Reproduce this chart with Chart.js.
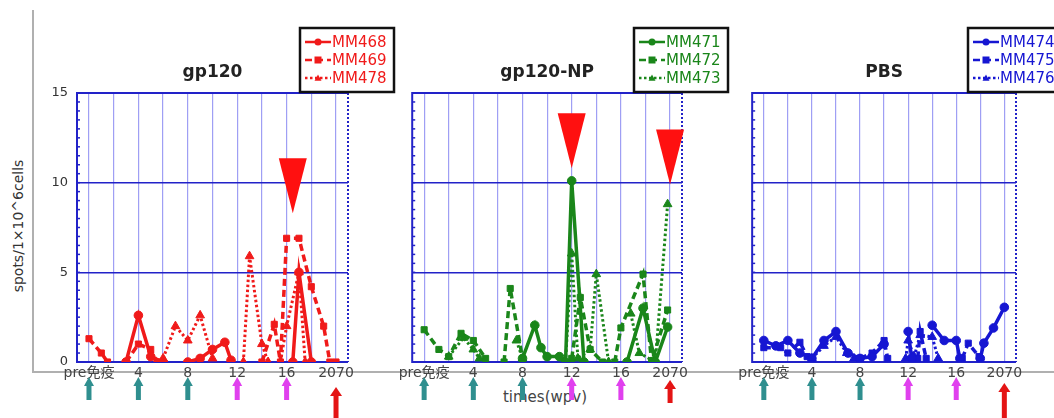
<!DOCTYPE html>
<html>
<head>
<meta charset="utf-8">
<script src="https://cdn.jsdelivr.net/npm/chart.js@4/dist/chart.umd.min.js"></script>
<style>
body { margin: 0; width: 1054px; height: 418px; overflow: hidden; background: #fff; position: relative; font-family: "DejaVu Sans", "Noto Sans CJK JP", sans-serif; }
canvas { position: absolute; top: 0; }
#c1 { left: 20px; }
#c2 { left: 395px; }
#c3 { left: 735px; }
#axisV { position: absolute; left: 32px; top: 10px; width: 2px; height: 363px; background: #b0b0b0; }
#axisH { position: absolute; left: 32px; top: 371px; width: 1022px; height: 2px; background: #b0b0b0; }
#ylab { position: absolute; left: 18px; top: 226px; transform: translate(-50%, -50%) rotate(-90deg); font-size: 14px; white-space: nowrap; color: #333; }
#xlab { position: absolute; left: 545px; top: 397px; transform: translate(-50%, -50%); font-size: 15px; color: #444; white-space: nowrap; }
</style>
</head>
<body>
<div id="axisV"></div>
<div id="axisH"></div>
<div id="ylab">spots/1×10^6cells</div>
<div id="xlab">times(wpv)</div>
<canvas id="c1" width="380" height="418"></canvas>
<canvas id="c2" width="345" height="418"></canvas>
<canvas id="c3" width="319" height="418"></canvas>
<script>
// x axis: weeks after vaccination, grid every 2 weeks
var gridWeeks = [0, 2, 4, 6, 8, 10, 12, 14, 16, 18, 20];
var xTickLabels = ["pre免疫", "", "4", "", "8", "", "12", "", "16", "", "2070"];
var yTicks = [0, 5, 10, 15];

// immunisation arrows under the axis
var arrowWeeks = [0, 4, 8, 12, 16, 20];
var arrowKinds = ["teal", "teal", "teal", "pink", "pink", "red"];

// gp120 group
var mm468Weeks  = [3, 4, 5, 6, 6.5, 8, 9, 10, 11, 11.5, 13, 16.5, 17, 18];
var mm468Values = [0, 2.6, 0.3, 0, null, 0, 0.2, 0.7, 1.1, 0.1, null, 0, 5.0, 0];
var mm469Weeks  = [0, 1, 1.5, 2, 3, 4, 5, 5.5, 7, 14, 15, 15.5, 16, 17, 18, 19, 19.5, 20];
var mm469Values = [1.3, 0.5, 0, null, 0, 1.0, 0.7, 0, null, 0, 2.1, 0, 6.9, 6.9, 4.2, 2.0, 0, 0];
var mm478Weeks  = [6, 7, 8, 9, 10, 11, 12.5, 13, 14, 14.5, 15, 15.5, 16, 17, 17.5];
var mm478Values = [0.2, 2.0, 1.2, 2.6, 0.2, null, 0, 5.9, 1.0, 0, null, 0, 2.0, 5.0, 0];
var gp120MarkWeeks = [16.5];
var gp120MarkTips  = [8.3];

// gp120-NP group
var mm471Weeks  = [8, 9, 9.5, 10, 11, 11.5, 12, 13, 13.5, 16.5, 17.8, 18.8, 19.8];
var mm471Values = [0.2, 2.05, 0.8, 0.3, 0.3, 0, 10.1, 0, null, 0, 3.0, 0, 1.95];
var mm472Weeks  = [0, 1.2, 2, 3, 4, 5, 5.5, 6.5, 7, 8, 8.5, 12, 12.7, 13.5, 14.5, 15, 15.5, 16, 17.8, 18.5, 19.8];
var mm472Values = [1.8, 0.7, 0.3, 1.6, 1.2, 0.2, null, 0, 4.1, 0.2, null, 0.2, 3.6, 0.7, 0, null, 0, 1.9, 4.9, 0, 2.9];
var mm473Weeks  = [2, 3.2, 4, 4.5, 5, 7.5, 8, 9, 11.5, 12, 12.5, 13.5, 14, 15, 15.5, 16.8, 17.5, 18.8, 19.8];
var mm473Values = [0.3, 1.35, 0.7, 0.2, null, 1.2, 0.2, null, 0, 6.05, 0.2, 0.7, 4.9, 0, null, 2.7, 0.5, 0, 8.8];
var npMarkWeeks = [12, 20];
var npMarkTips  = [10.8, 9.9];

// PBS group
var mm474Weeks  = [0, 1, 2, 3, 4, 5, 6, 7, 8, 9, 10, 10.5, 12, 12.3, 12.6, 14, 15, 16, 16.3, 17, 18, 18.3, 19.1, 20];
var mm474Values = [1.2, 0.9, 1.2, 0.5, 0.2, 1.2, 1.7, 0.5, 0.2, 0.3, 1.0, null, 1.7, 0.2, null, 2.05, 1.2, 1.2, 0.2, null, 0.2, 1.05, 1.9, 3.05];
var mm475Weeks  = [0, 1.4, 2, 3, 3.6, 4, 4.5, 8, 9, 10, 10.3, 11, 12.8, 13, 13.5, 14, 16.5, 17, 17.9];
var mm475Values = [0.8, 0.8, 0.5, 1.1, 0.3, 0.2, null, 0.2, 0.5, 1.2, 0.2, null, 0.2, 1.7, 0.2, null, 0.2, 1.05, 0.3];
var mm476Weeks  = [4, 5, 6, 6.9, 7.5, 9, 11.8, 12, 12.5, 13, 14, 14.5];
var mm476Values = [0.2, 0.9, 1.4, 0.5, 0.2, null, 0.2, 1.2, 0.3, 1.5, 1.4, 0.2];

var FRAME = "#2222c8";
var arrowColors = { teal: "#2f8f8f", pink: "#e040ee", red: "#e41414" };

function pts(weeks, values) {
	return weeks.map(function(w, i) { return { x: w, y: values[i] }; });
}

function series(name, weeks, values, color, kind) {
	var dash = kind == "solid" ? [] : (kind == "dash" ? [7, 4] : [2.5, 2.5]);
	var shape = kind == "solid" ? "circle" : (kind == "dash" ? "rect" : "triangle");
	return {
		label: name,
		data: pts(weeks, values),
		borderColor: color,
		backgroundColor: color,
		borderWidth: kind == "dot" ? 3 : 3.5,
		borderDash: dash,
		pointStyle: shape,
		pointRadius: shape == "triangle" ? 5 : 4.3,
		pointBorderWidth: 1,
		spanGaps: false,
		tension: 0
	};
}

function drawShape(ctx, shape, x, y, r) {
	ctx.beginPath();
	if (shape == "circle") ctx.arc(x, y, r, 0, Math.PI * 2);
	else if (shape == "rect") ctx.rect(x - r, y - r, r * 2, r * 2);
	else { ctx.moveTo(x, y - r); ctx.lineTo(x + r, y + r * 0.8); ctx.lineTo(x - r, y + r * 0.8); ctx.closePath(); }
	ctx.fill();
}

var panelDeco = {
	id: "panelDeco",
	beforeDatasetsDraw: function(chart, args, o) {
		var ctx = chart.ctx, a = chart.chartArea, y = chart.scales.y;
		ctx.save();
		ctx.strokeStyle = FRAME;
		ctx.lineWidth = 2;
		ctx.beginPath();
		ctx.moveTo(a.right, a.top); ctx.lineTo(a.left, a.top); ctx.lineTo(a.left, a.bottom); ctx.lineTo(a.right, a.bottom);
		ctx.stroke();
		ctx.setLineDash([2, 2]);
		ctx.beginPath(); ctx.moveTo(a.right, a.top); ctx.lineTo(a.right, a.bottom); ctx.stroke();
		ctx.setLineDash([]);
		ctx.lineWidth = 1.5;
		for (var v = 0.5; v < 15; v += 0.5) {
			var py = y.getPixelForValue(v);
			ctx.beginPath(); ctx.moveTo(a.left, py); ctx.lineTo(a.left + 3, py); ctx.stroke();
		}
		ctx.restore();
	},
	afterDatasetsDraw: function(chart, args, o) {
		var ctx = chart.ctx, x = chart.scales.x, y = chart.scales.y;
		ctx.save();
		ctx.fillStyle = "#ff1010";
		for (var i = 0; i < o.markWeeks.length; i++) {
			var px = x.getPixelForValue(o.markWeeks[i]);
			var tip = y.getPixelForValue(o.markTips[i]);
			ctx.beginPath();
			ctx.moveTo(px - 14, tip - 55); ctx.lineTo(px + 14, tip - 55); ctx.lineTo(px, tip);
			ctx.closePath(); ctx.fill();
		}
		ctx.restore();
	},
	afterDraw: function(chart, args, o) {
		var ctx = chart.ctx, a = chart.chartArea, x = chart.scales.x;
		ctx.save();
		// title
		ctx.fillStyle = "#222";
		ctx.font = "bold 17px 'DejaVu Sans'";
		ctx.textAlign = "center";
		ctx.textBaseline = "middle";
		ctx.fillText(o.title, (a.left + a.right) / 2, 73);
		// arrows
		for (var i = 0; i < arrowWeeks.length; i++) {
			var px = x.getPixelForValue(arrowWeeks[i]);
			var k = arrowKinds[i];
			var top = k == "red" ? o.redTop : 377;
			var bot = k == "red" ? o.redBottom : 400;
			var hw = k == "red" ? 6 : 5;
			ctx.fillStyle = arrowColors[k];
			ctx.beginPath();
			ctx.moveTo(px, top); ctx.lineTo(px + hw, top + 9); ctx.lineTo(px - hw, top + 9);
			ctx.closePath(); ctx.fill();
			ctx.fillRect(px - 2.5, top + 8, 5, bot - top - 8);
		}
		// legend box
		var bl = a.right - 48, bt = 28;
		ctx.fillStyle = "#fff";
		ctx.fillRect(bl, bt, 94, 64);
		ctx.strokeStyle = "#111";
		ctx.lineWidth = 2.5;
		ctx.strokeRect(bl, bt, 94, 64);
		ctx.textAlign = "left";
		ctx.font = "15px 'DejaVu Sans'";
		chart.data.datasets.forEach(function(ds, j) {
			var ry = 42 + j * 18;
			ctx.strokeStyle = ds.borderColor;
			ctx.fillStyle = ds.borderColor;
			ctx.lineWidth = 2.5;
			ctx.setLineDash(ds.borderDash);
			ctx.beginPath(); ctx.moveTo(bl + 5, ry); ctx.lineTo(bl + 31, ry); ctx.stroke();
			ctx.setLineDash([]);
			drawShape(ctx, ds.pointStyle, bl + 18, ry, 3.5);
			ctx.fillText(ds.label, bl + 32, ry + 1);
		});
		ctx.restore();
	}
};

function makePanel(id, opts, datasets) {
	return new Chart(document.getElementById(id), {
		type: "line",
		data: { datasets: datasets },
		options: {
			responsive: false,
			animation: false,
			layout: { padding: { top: 93, right: opts.padRight, left: 0, bottom: 0 } },
			plugins: {
				legend: { display: false },
				tooltip: { enabled: false },
				panelDeco: opts
			},
			scales: {
				x: {
					type: "linear",
					min: -0.97,
					max: 20.97,
					afterBuildTicks: function(s) { s.ticks = gridWeeks.map(function(v) { return { value: v }; }); },
					afterFit: function(s) { s.height = 56; },
					border: { display: false },
					grid: { color: "rgba(80,80,235,0.55)", lineWidth: 1.2, drawTicks: false },
					ticks: {
						autoSkip: false, maxRotation: 0, minRotation: 0, padding: 3,
						color: "#444",
						font: { family: "'DejaVu Sans', 'Noto Sans CJK JP'", size: 14 },
						callback: function(v) { return xTickLabels[gridWeeks.indexOf(v)]; }
					}
				},
				y: {
					min: 0,
					max: 15,
					afterBuildTicks: function(s) { s.ticks = yTicks.map(function(v) { return { value: v }; }); },
					afterFit: function(s) { s.width = opts.yWidth; },
					border: { display: false },
					grid: {
						drawTicks: false,
						lineWidth: 1.6,
						color: function(c) { return (c.tick && (c.tick.value == 5 || c.tick.value == 10)) ? FRAME : "rgba(0,0,0,0)"; }
					},
					ticks: {
						display: opts.showY, padding: 9, color: "#333",
						font: { family: "'DejaVu Sans'", size: 13 }
					}
				}
			}
		},
		plugins: [panelDeco]
	});
}

var RED = "#f01a1a", GREEN = "#1a861a", BLUE = "#1616d2";

makePanel("c1",
	{ title: "gp120", markWeeks: gp120MarkWeeks, markTips: gp120MarkTips, redTop: 387, redBottom: 418, showY: true, yWidth: 57, padRight: 52 },
	[series("MM468", mm468Weeks, mm468Values, RED, "solid"),
	 series("MM469", mm469Weeks, mm469Values, RED, "dash"),
	 series("MM478", mm478Weeks, mm478Values, RED, "dot")]);

makePanel("c2",
	{ title: "gp120-NP", markWeeks: npMarkWeeks, markTips: npMarkTips, redTop: 380, redBottom: 403, showY: false, yWidth: 15, padRight: 58 },
	[series("MM471", mm471Weeks, mm471Values, GREEN, "solid"),
	 series("MM472", mm472Weeks, mm472Values, GREEN, "dash"),
	 series("MM473", mm473Weeks, mm473Values, GREEN, "dot")]);

makePanel("c3",
	{ title: "PBS", markWeeks: [], markTips: [], redTop: 383, redBottom: 418, showY: false, yWidth: 8, padRight: 38 },
	[series("MM474", mm474Weeks, mm474Values, BLUE, "solid"),
	 series("MM475", mm475Weeks, mm475Values, BLUE, "dash"),
	 series("MM476", mm476Weeks, mm476Values, BLUE, "dot")]);
</script>
</body>
</html>
